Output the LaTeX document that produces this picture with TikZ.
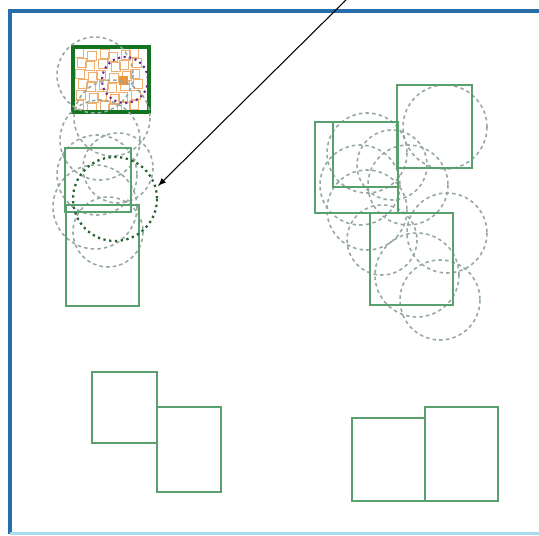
\documentclass[tikz,border=0pt]{standalone}
\usepackage{tikz}
\definecolor{framecol}{RGB}{40,110,170}
\definecolor{framelow}{RGB}{170,220,240}
\definecolor{boxcol}{RGB}{90,160,110}
\definecolor{bigboxcol}{RGB}{20,115,30}
\definecolor{cellcol}{RGB}{240,175,110}
\definecolor{cellfill}{RGB}{235,150,60}
\definecolor{zonecol}{RGB}{150,168,162}
\definecolor{focuscol}{RGB}{40,100,50}
\definecolor{pickcol}{RGB}{110,40,140}
\tikzstyle{frame}=[line width=2pt, draw=framecol]
\tikzstyle{box}=[line width=1.1pt, draw=boxcol]
\tikzstyle{bigbox}=[line width=2pt, draw=bigboxcol]
\tikzstyle{cell}=[line width=0.5pt, draw=cellcol]
\tikzstyle{zone}=[line width=0.9pt, dash pattern=on 2pt off 1.8pt, draw=zonecol]
\tikzstyle{focus}=[line width=1.3pt, dotted, draw=focuscol]
\tikzstyle{pick}=[line width=1.2pt, dotted, draw=pickcol]
\tikzstyle{dedge}=[line width=0.6pt,-latex]

\begin{document}
\begin{tikzpicture}[x=0.02cm, y=-0.02cm]
	\useasboundingbox (0,0) rectangle (539,536);
	\fill[white] (0,0) rectangle (539,536);

	% frame
	\draw[frame] (539,11) -- (10,11) -- (10,534);
	\draw[line width=1.7pt, draw=framelow] (10,534) -- (539,534);

	% small cells in the top-left block
	\foreach \i in {0,...,5}
		\foreach \j in {0,...,5} {
			\pgfmathsetmacro{\dx}{mod(\i*7+\j*3,5)-2}
			\pgfmathsetmacro{\dy}{mod(\i*3+\j*5,5)-2}
			\draw[cell] (76+\i*11+\dx,50+\j*10.5+\dy) rectangle ++(9,9);
		}
	\fill[cellfill] (119,76) rectangle (128,85);
	\draw[pick] (125,80) circle (23);
	\draw[bigbox] (73,47) rectangle (149,112);

	% dashed zones, left column
	\foreach \cx/\cy/\r in {95/75/38, 112/118/38, 100/140/40, 118/168/35,
	                        97/175/40, 95/207/42, 108/232/35}
		\draw[zone] (\cx,\cy) circle (\r);

	% dashed zones, right cluster
	\foreach \cx/\cy/\r in {445/127/42, 367/153/40, 360/185/40, 392/165/35,
	                        367/210/40, 408/185/40, 447/233/40, 382/240/35,
	                        417/275/42, 440/300/40}
		\draw[zone] (\cx,\cy) circle (\r);

	% left column boxes
	\draw[box] (65,148) rectangle (131,212);
	\draw[box] (66,205) rectangle (139,306);
	\draw[focus] (115,199) circle (42);

	% right cluster boxes
	\draw[box] (315,122) rectangle (398,213);
	\draw[box] (333,122) rectangle (398,187);
	\draw[box] (397,85) rectangle (472,168);
	\draw[box] (370,213) rectangle (453,305);

	% lower boxes
	\draw[box] (92,372) rectangle (157,443);
	\draw[box] (157,407) rectangle (221,492);
	\draw[box] (352,418) rectangle (425,501);
	\draw[box] (425,407) rectangle (498,501);

	% pointer
	\coordinate (src) at (346,0);
	\coordinate (tgt) at (158,186);
	\draw[dedge] (src) -- (tgt);
\end{tikzpicture}
\end{document}
